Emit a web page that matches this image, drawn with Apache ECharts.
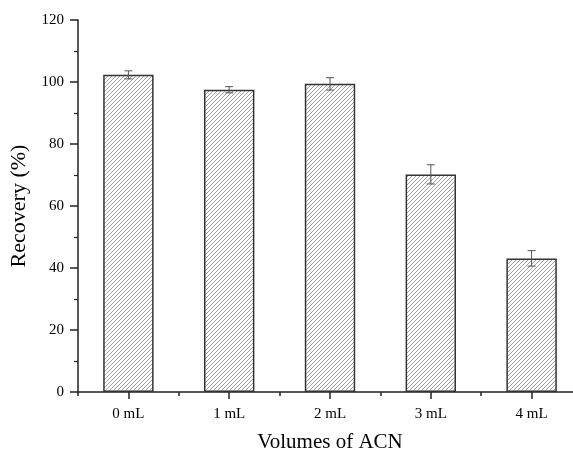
<!DOCTYPE html>
<html>
<head>
<meta charset="utf-8">
<script src="https://cdn.jsdelivr.net/npm/echarts@6/dist/echarts.min.js"></script>
<style>html,body{margin:0;padding:0;background:#fff}#c{width:573px;height:452px}</style>
</head>
<body>
<div id="c"></div>
<script>
var categories = ['0 mL', '1 mL', '2 mL', '3 mL', '4 mL'];
var recovery = [102.3, 97.5, 99.4, 70.2, 43.1];
var errors = [1.3, 1.0, 2.0, 3.1, 2.5];
var yTicks = [0, 20, 40, 60, 80, 100, 120];

function hatch() {
  var c = document.createElement('canvas');
  c.width = 4; c.height = 4;
  var g = c.getContext('2d');
  g.fillStyle = '#fff'; g.fillRect(0, 0, 4, 4);
  g.strokeStyle = '#8a8a8a'; g.lineWidth = 0.8;
  g.beginPath();
  g.moveTo(-1, 5); g.lineTo(5, -1);
  g.moveTo(-1, 1); g.lineTo(1, -1);
  g.moveTo(3, 5); g.lineTo(5, 3);
  g.stroke();
  return c;
}

var chart = echarts.init(document.getElementById('c'));
var font = 'Liberation Serif';
chart.setOption({
  animation: false,
  backgroundColor: '#fff',
  grid: { left: 78, right: -9, top: 20, bottom: 60, outerBoundsMode: 'none', containLabel: false },
  xAxis: [{
    type: 'category', data: categories,
    name: 'Volumes of ACN', nameLocation: 'middle', nameGap: 40,
    nameTextStyle: { fontFamily: font, fontSize: 21, color: '#000' },
    axisLine: { lineStyle: { color: '#222', width: 1.5 } },
    axisTick: { show: true, inside: false, alignWithLabel: true, length: 7, lineStyle: { color: '#222', width: 1.5 } },
    axisLabel: { fontFamily: font, fontSize: 15, color: '#000', margin: 15 }
  }, {
    type: 'category', data: categories, position: 'bottom',
    axisLine: { show: false },
    axisTick: { show: true, inside: false, length: 4, lineStyle: { color: '#222', width: 1.5 } },
    axisLabel: { show: false }
  }],
  yAxis: {
    type: 'value', min: 0, max: 120, interval: 20,
    name: 'Recovery (%)', nameLocation: 'middle', nameGap: 46,
    nameTextStyle: { fontFamily: font, fontSize: 22, color: '#000' },
    axisLine: { show: true, lineStyle: { color: '#222', width: 1.5 } },
    axisTick: { show: true, length: 8, lineStyle: { color: '#222', width: 1.5 } },
    minorTick: { show: true, splitNumber: 2, length: 4, lineStyle: { color: '#222', width: 1.2 } },
    splitLine: { show: false },
    axisLabel: { fontFamily: font, fontSize: 15, color: '#000', margin: 14,
      formatter: function (v) { return yTicks.indexOf(v) >= 0 ? String(v) : ''; } }
  },
  series: [{
    type: 'bar', data: recovery, barWidth: '50%',
    itemStyle: { color: { image: hatch(), repeat: 'repeat' }, borderColor: '#333', borderWidth: 1.5 }
  }, {
    type: 'custom',
    data: recovery.map(function (v, i) { return [i, v - errors[i], v + errors[i]]; }),
    renderItem: function (params, api) {
      var lo = api.coord([api.value(0), api.value(1)]);
      var hi = api.coord([api.value(0), api.value(2)]);
      var w = 4;
      var st = { stroke: '#555', lineWidth: 1 };
      return { type: 'group', children: [
        { type: 'line', shape: { x1: lo[0], y1: lo[1], x2: hi[0], y2: hi[1] }, style: st },
        { type: 'line', shape: { x1: lo[0] - w, y1: lo[1], x2: lo[0] + w, y2: lo[1] }, style: st },
        { type: 'line', shape: { x1: hi[0] - w, y1: hi[1], x2: hi[0] + w, y2: hi[1] }, style: st }
      ] };
    },
    z: 5
  }]
});
</script>
</body>
</html>
